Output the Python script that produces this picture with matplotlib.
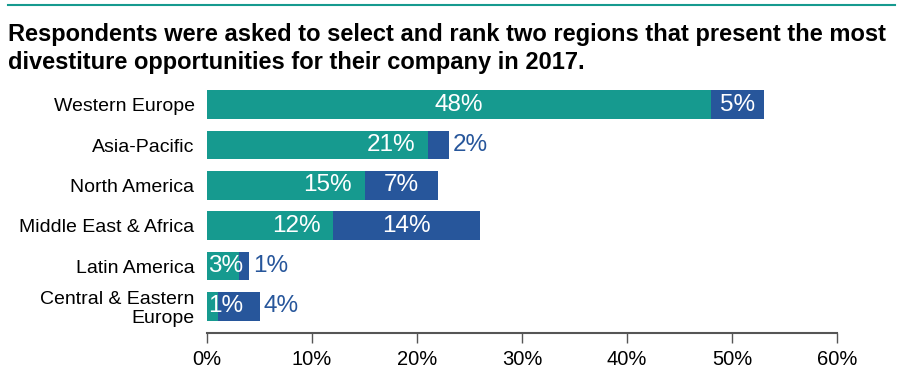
import matplotlib
matplotlib.use("Agg")
import matplotlib.pyplot as plt
from matplotlib.lines import Line2D

# data
regions = ["Western Europe", "Asia-Pacific", "North America",
           "Middle East & Africa", "Latin America", "Central & Eastern\nEurope"]
rank1 = [48, 21, 15, 12, 3, 1]
rank2 = [5, 2, 7, 14, 1, 4]
ticks = [0, 10, 20, 30, 40, 50, 60]
tick_labels = ["0%", "10%", "20%", "30%", "40%", "50%", "60%"]
title = ("Respondents were asked to select and rank two regions that present the most\n"
         "divestiture opportunities for their company in 2017.")

TEAL = "#169a8f"
BLUE = "#27569b"

plt.rcParams["font.family"] = ["Liberation Sans", "DejaVu Sans"]

fig = plt.figure(figsize=(9, 3.72), dpi=100)
ax = fig.add_axes([0.23, 0.1048, 0.70, 0.680])

y = list(range(len(regions)))
ax.barh(y, rank1, height=0.71, color=TEAL)
ax.barh(y, rank2, left=rank1, height=0.71, color=BLUE)

VAL_FS = 17.5
for i, (a, b) in enumerate(zip(rank1, rank2)):
    # first-rank label, white inside the teal part
    if a >= 30:
        ax.text(a / 2, i, f"{a}%", color="white", fontsize=VAL_FS,
                ha="center", va="center")
    elif a < 5:
        ax.text(0.1, i, f"{a}%", color="white", fontsize=VAL_FS,
                ha="left", va="center")
    else:
        ax.text(a - 1.2, i, f"{a}%", color="white", fontsize=VAL_FS,
                ha="right", va="center")
    # second-rank label, inside if there is room, else to the right
    if b >= 4 and a >= 5:
        ax.text(a + b / 2, i, f"{b}%", color="white", fontsize=VAL_FS,
                ha="center", va="center")
    else:
        ax.text(a + b + 0.4, i, f"{b}%", color=BLUE, fontsize=VAL_FS,
                ha="left", va="center")

ax.set_xlim(0, 60)
ax.set_ylim(5.66, -0.61)
ax.set_yticks(y)
ax.set_yticklabels(regions, fontsize=14, linespacing=1.12)
ax.get_yticklabels()[-1].set_y(-0.2)
ax.set_xticks(ticks)
ax.set_xticklabels(tick_labels, fontsize=14.5)
ax.tick_params(axis="y", length=0, pad=9)
ax.tick_params(axis="x", length=7, width=1, color="#555555", pad=5)
for s in ["top", "right", "left"]:
    ax.spines[s].set_visible(False)
ax.spines["bottom"].set_color("#555555")
ax.spines["bottom"].set_linewidth(1.5)
ax.spines["bottom"].set_bounds(0, 60)

fig.text(0.009, 0.937, title, fontsize=17, fontweight="bold",
         va="top", ha="left", linespacing=1.25)
fig.add_artist(Line2D([0.009, 0.994], [0.986, 0.986], color=TEAL,
                      linewidth=1.5, transform=fig.transFigure))

fig.savefig("out.png", dpi=100)
